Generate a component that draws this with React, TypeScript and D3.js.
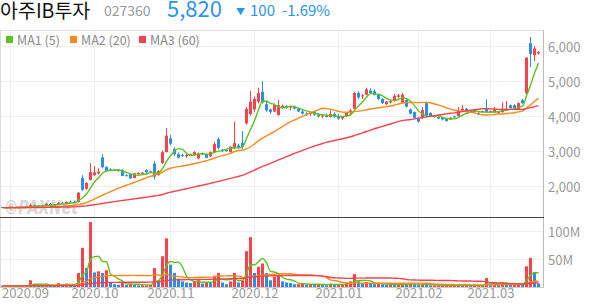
import React from 'react';
import * as d3 from 'd3';

const monthDays: [string, number[]][] = [
  ['2020-08', [28, 31]],
  ['2020-09', [1, 2, 3, 4, 7, 8, 9, 10, 11, 14, 15, 16, 17, 18, 21, 22, 23, 24, 25, 28, 29]],
  ['2020-10', [5, 6, 7, 8, 12, 13, 14, 15, 16, 19, 20, 21, 22, 23, 26, 27, 28, 29, 30]],
  ['2020-11', [2, 3, 4, 5, 6, 9, 10, 11, 12, 13, 16, 17, 18, 19, 20, 23, 24, 25, 26, 27, 30]],
  ['2020-12', [1, 2, 3, 4, 7, 8, 9, 10, 11, 14, 15, 16, 17, 18, 21, 22, 23, 24, 28, 29, 30]],
  ['2021-01', [4, 5, 6, 7, 8, 11, 12, 13, 14, 15, 18, 19, 20, 21, 22, 25, 26, 27, 28, 29]],
  ['2021-02', [1, 2, 3, 4, 5, 8, 9, 10, 15, 16, 17, 18, 19, 22, 23, 24, 25, 26]],
  ['2021-03', [2, 3, 4, 5, 8, 9, 10, 11, 12, 15, 16, 17, 18]],
];
const dates: string[] = monthDays.flatMap(([m, ds]) => ds.map((d) => `${m}-${String(d).padStart(2, '0')}`));

const open = [
  1390, 1375, 1370, 1385, 1370, 1380, 1395, 1400, 1440, 1415, 1430, 1420, 1480, 1450, 1465, 1510, 1480, 1540, 1530, 1530,
  2220, 1910, 2160, 2300, 2350, 2810, 2530, 2470, 2460, 2420, 2450, 2300, 2330, 2220, 2340, 2350, 2450, 2400, 2630, 2300,
  2650, 2960, 3350, 3050, 2900, 2880, 2840, 2870, 2880, 2780, 2920, 2900, 2840, 2960, 3330, 3030, 3020, 2960, 3080, 3150,
  3220, 3780, 4050, 4180, 4400, 4680, 4330, 4180, 4120, 4020, 4250, 4280, 4230, 4260, 4200, 4120, 4060, 4050, 4100, 4030,
  3980, 4000, 3960, 4050, 3970, 3920, 3980, 4080, 4200, 4650, 4550, 4600, 4720, 4700, 4600, 4480, 4330, 4380, 4420, 4540,
  4380, 4450, 4180, 4100, 3940, 3930, 4360, 4080, 3990, 3960, 3940, 3910, 3890, 3980, 3990, 4150, 4200, 4150, 4100, 4080,
  4130, 4200, 4130, 4100, 4080, 4100, 4160, 4300, 4300, 4190, 4440, 4640, 6070, 5730, 5780,
];
const high = [
  1400, 1390, 1395, 1395, 1390, 1405, 1420, 1480, 1460, 1440, 1450, 1500, 1510, 1480, 1530, 1540, 1550, 1580, 1560, 1820,
  2300, 2100, 2650, 2560, 2500, 2900, 2560, 2500, 2480, 2470, 2470, 2330, 2350, 2360, 2380, 2390, 2470, 2430, 2700, 2450,
  3000, 3650, 3450, 3100, 2950, 2920, 2900, 2920, 2990, 2950, 2950, 2930, 2980, 3250, 3380, 3050, 3040, 3130, 3830, 3200,
  3560, 4250, 4700, 4550, 4800, 4980, 4400, 4200, 4350, 4450, 4320, 4300, 4280, 4290, 4220, 4180, 4100, 4120, 4150, 4080,
  4050, 4060, 4150, 4100, 4050, 4000, 4100, 4200, 4680, 4700, 4620, 4800, 4780, 4750, 4620, 4500, 4420, 4450, 4620, 4620,
  4650, 4500, 4200, 4120, 3960, 4250, 4400, 4100, 4010, 3980, 3960, 3930, 3960, 4000, 4250, 4300, 4220, 4170, 4180, 4100,
  4150, 4470, 4150, 4250, 4130, 4380, 4420, 4320, 4330, 4380, 4480, 5670, 6250, 5990, 5850,
];
const low = [
  1365, 1360, 1360, 1365, 1360, 1370, 1385, 1395, 1400, 1400, 1410, 1415, 1440, 1430, 1450, 1470, 1470, 1510, 1500, 1520,
  1850, 1880, 2150, 2280, 2320, 2500, 2400, 2420, 2420, 2400, 2270, 2270, 2200, 2210, 2310, 2320, 2370, 2370, 2180, 2290,
  2620, 2950, 3150, 2850, 2780, 2820, 2800, 2840, 2860, 2750, 2880, 2780, 2820, 2950, 3040, 2960, 2970, 2950, 3050, 3050,
  3050, 3750, 4000, 4100, 4350, 4350, 4120, 4050, 4100, 4000, 4200, 4200, 4150, 4180, 4100, 4030, 3990, 3990, 4000, 3950,
  3930, 3950, 3950, 3940, 3880, 3880, 3960, 4050, 4180, 4480, 4480, 4580, 4620, 4580, 4450, 4330, 4300, 4350, 4400, 4500,
  4350, 4230, 4040, 3920, 3800, 3900, 3950, 3970, 3940, 3900, 3870, 3830, 3880, 3940, 3980, 4130, 4090, 4110, 4090, 4020,
  4090, 4080, 4100, 4080, 4060, 4090, 4140, 4200, 4200, 4170, 4340, 4630, 5390, 5560, 5740,
];
const close = [
  1375, 1370, 1385, 1370, 1380, 1395, 1400, 1445, 1415, 1430, 1420, 1480, 1450, 1465, 1510, 1480, 1540, 1530, 1520, 1800,
  1880, 2080, 2390, 2380, 2400, 2530, 2420, 2440, 2440, 2450, 2280, 2290, 2210, 2350, 2360, 2370, 2380, 2410, 2260, 2420,
  2960, 3430, 3200, 2900, 2800, 2850, 2880, 2900, 2960, 2920, 2900, 2800, 2960, 3190, 3080, 2990, 2990, 3110, 3220, 3100,
  3120, 4190, 4400, 4480, 4650, 4380, 4150, 4110, 4300, 4300, 4280, 4230, 4260, 4200, 4120, 4060, 4050, 4090, 4030, 3980,
  4010, 3960, 4050, 3970, 3920, 3980, 4080, 4150, 4650, 4520, 4580, 4750, 4650, 4600, 4480, 4360, 4400, 4420, 4560, 4580,
  4600, 4260, 4060, 3940, 3830, 4160, 3980, 3990, 3960, 3920, 3890, 3850, 3940, 3950, 4130, 4200, 4100, 4120, 4160, 4030,
  4100, 4100, 4110, 4170, 4110, 4200, 4200, 4220, 4220, 4360, 4360, 5660, 5760, 5920, 5820,
];
// volume in millions of shares
const volume = [
  2, 1.5, 2, 1.5, 2, 3.5, 2.5, 12, 4, 3, 2.5, 5, 3, 2.5, 7, 3, 6, 4, 3, 25,
  70, 34, 116, 26, 28, 25, 30, 8, 5, 4, 7, 4, 6, 4, 3, 3, 3, 4, 34, 12,
  55, 87, 40, 25, 15, 10, 8, 7, 9, 12, 6, 8, 7, 20, 25, 8, 5, 10, 25, 8,
  12, 64, 89, 25, 36, 42, 25, 12, 18, 22, 10, 8, 7, 5, 5, 6, 4, 5, 4, 5,
  4, 3, 6, 4, 5, 5, 8, 10, 23, 10, 7, 9, 6, 5, 6, 5, 4, 5, 4, 4,
  7, 5, 6, 5, 4, 5, 4, 3, 3, 3, 3, 3, 3, 3, 4, 3, 3, 2, 3, 3,
  3, 16, 3, 7, 4, 9, 8, 4, 4, 6, 5, 37, 52, 27, 6,
];

const priceTicks = [2000, 3000, 4000, 5000, 6000];
const volumeTicks = [50, 100];
const monthStarts = ['2020-09-01', '2020-10-05', '2020-11-02', '2020-12-01', '2021-01-04', '2021-02-01', '2021-03-02'];
const monthLabels = ['2020.09', '2020.10', '2020.11', '2020.12', '2021.01', '2021.02', '2021.03'];
const maPeriods = [5, 20, 60];
const maNames = ['MA1 (5)', 'MA2 (20)', 'MA3 (60)'];
const maColors = ['#5cc21f', '#f58a1f', '#f2444d'];

const UP = '#f5424b';
const DOWN = '#2b8de8';
const FONT = '"Noto Sans CJK KR", "Noto Sans", sans-serif';

function movingAverage(values: number[], n: number): number[] {
  return values.map((_, i) => {
    let s = 0;
    for (let k = i - n + 1; k <= i; k++) s += values[Math.max(0, k)];
    return s / n;
  });
}

export default function App() {
  const W = 594;
  const H = 304;
  const plotRight = 543;
  const priceTop = 30;
  const priceBottom = 217;
  const volBottom = 287;

  const x = d3.scaleBand<string>().domain(dates).range([0.5, 540.5]).padding(0);
  const step = x.step();
  const cx = (d: string) => (x(d) as number) + step / 2;

  const y = d3.scaleLinear().domain([2000, 6000]).range([185.7, 45.7]);
  const yv = d3.scaleLinear().domain([0, 100]).range([volBottom, 231]);

  const priceMAs = maPeriods.map((p) => movingAverage(close, p));
  const volMAs = maPeriods.map((p) => movingAverage(volume, p));

  const priceLine = (vals: number[]) =>
    d3
      .line<number>()
      .x((_, i) => cx(dates[i]))
      .y((v) => y(v))
      .curve(d3.curveMonotoneX)(vals) as string;
  const volLine = (vals: number[]) =>
    d3
      .line<number>()
      .x((_, i) => cx(dates[i]))
      .y((v) => yv(v))
      .curve(d3.curveMonotoneX)(vals) as string;

  const crisp = (v: number) => Math.round(v) + 0.5;

  return (
    <svg width={W} height={H} style={{ position: 'absolute', left: 0, top: 0, background: '#fff' }} fontFamily={FONT}>
      <defs>
        <clipPath id="pclip">
          <rect x={0} y={priceTop} width={plotRight} height={priceBottom - priceTop} />
        </clipPath>
        <clipPath id="vclip">
          <rect x={0} y={priceBottom + 1} width={plotRight} height={volBottom - priceBottom - 1} />
        </clipPath>
      </defs>
      <rect x={0} y={0} width={W} height={H} fill="#fff" />

      {/* header */}
      <text x={0} y={18} fontSize={19.5} fill="#111">아주IB투자</text>
      <text x={104} y={16} fontSize={14} fill="#999">027360</text>
      <text x={167} y={17} fontSize={22} fill="#2b93ee">5,820</text>
      <text x={236} y={14.5} fontSize={9} fill="#2b93ee">▼</text>
      <text x={250} y={16} fontSize={15} fill="#2b93ee">100</text>
      <text x={282} y={16} fontSize={15} fill="#2b93ee">-1.69%</text>

      {/* grid */}
      {monthStarts.map((d) => (
        <line key={d} x1={crisp(cx(d) - 0.5)} x2={crisp(cx(d) - 0.5)} y1={priceTop} y2={volBottom} stroke="#eeeeee" />
      ))}
      {priceTicks.map((t) => (
        <line key={t} x1={0} x2={plotRight} y1={crisp(y(t))} y2={crisp(y(t))} stroke="#eeeeee" />
      ))}
      {volumeTicks.map((t) => (
        <line key={t} x1={0} x2={plotRight} y1={crisp(yv(t))} y2={crisp(yv(t))} stroke="#eeeeee" />
      ))}

      {/* frame */}
      <line x1={0} x2={plotRight} y1={priceTop + 0.5} y2={priceTop + 0.5} stroke="#dddddd" />
      <line x1={0.5} x2={0.5} y1={priceTop} y2={volBottom} stroke="#dddddd" />
      <line x1={plotRight + 0.5} x2={plotRight + 0.5} y1={priceTop} y2={volBottom + 1} stroke="#bbbbbb" />
      <line x1={0} x2={plotRight + 1} y1={volBottom + 0.5} y2={volBottom + 0.5} stroke="#cccccc" />

      {/* watermark */}
      <text x={4} y={214} fontSize={20} fontWeight="bold" fontStyle="italic" fill="#9a9a9a" opacity={0.4}
        fontFamily="'DejaVu Sans', sans-serif" textLength={74} lengthAdjust="spacingAndGlyphs">
        ©PAXNet
      </text>

      {/* candles */}
      <g clipPath="url(#pclip)">
        {dates.map((d, i) => {
          const up = close[i] >= open[i];
          const col = up ? UP : DOWN;
          const c = cx(d);
          const top = y(Math.max(open[i], close[i]));
          const bot = y(Math.min(open[i], close[i]));
          return (
            <g key={d}>
              <line x1={c} x2={c} y1={y(high[i])} y2={y(low[i])} stroke={col} strokeWidth={1} />
              <rect x={c - 1.5} y={top} width={3} height={Math.max(1, bot - top)} fill={col} />
            </g>
          );
        })}
        {priceMAs.map((vals, k) => (
          <path key={k} d={priceLine(vals)} fill="none" stroke={maColors[k]} strokeWidth={1.4} />
        ))}
      </g>

      {/* volume: red when volume rose from the previous day, blue when it fell */}
      <g clipPath="url(#vclip)">
        {dates.map((d, i) => {
          const up = i === 0 ? true : volume[i] >= volume[i - 1];
          const col = up ? UP : DOWN;
          const c = cx(d);
          return <rect key={d} x={c - 1.5} y={yv(volume[i])} width={3} height={volBottom - yv(volume[i])} fill={col} />;
        })}
        {volMAs.map((vals, k) => (
          <path key={k} d={volLine(vals)} fill="none" stroke={maColors[k]} strokeWidth={1.4} />
        ))}
      </g>

      <line x1={0} x2={plotRight + 1} y1={priceBottom + 0.5} y2={priceBottom + 0.5} stroke="#444" strokeWidth={1.2} />

      {/* legend */}
      {maNames.map((n, k) => {
        const lx = [6, 70, 139][k];
        return (
          <g key={n}>
            <rect x={lx} y={36} width={7} height={7} fill={maColors[k]} />
            <text x={lx + 11} y={44.5} fontSize={12.5} fill="#888">{n}</text>
          </g>
        );
      })}

      {/* right axis */}
      {priceTicks.map((t) => (
        <text key={t} x={548} y={y(t) + 6} fontSize={13} fill="#999">{d3.format(',')(t)}</text>
      ))}
      {volumeTicks.map((t) => (
        <text key={t} x={548} y={yv(t) + 6} fontSize={13} fill="#999">{`${t}M`}</text>
      ))}

      {/* bottom axis */}
      {monthStarts.map((d, k) => {
        const c = cx(d);
        const anchorX = Math.max(2, c - 23);
        return (
          <text key={d} x={anchorX} y={298} fontSize={13} fill="#999">{monthLabels[k]}</text>
        );
      })}
    </svg>
  );
}
